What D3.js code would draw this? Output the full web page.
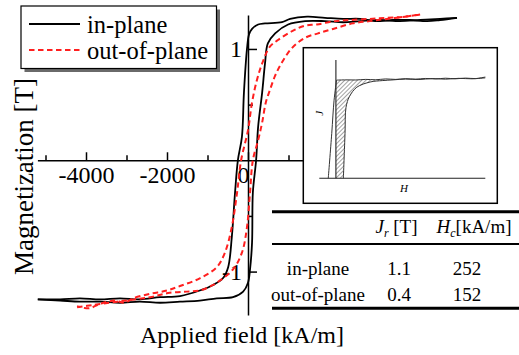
<!DOCTYPE html>
<html>
<head>
<meta charset="utf-8">
<script src="https://cdn.jsdelivr.net/npm/d3@7"></script>
<style>
  body { margin: 0; background: #fff; }
  svg { display: block; }
  svg text { font-family: "Liberation Serif", "Times New Roman", Tinos, "DejaVu Serif", serif; }
</style>
</head>
<body>
<svg id="chart" width="519" height="355"></svg>
<script>
// hysteresis loops, H in kA/m, M in T
const inPlaneDownH = [5160, 4740, 4420, 4000, 3580, 3140, 2770, 2350, 1900, 1460, 1040, 840, 420, 250, 100, 25, -25, -100, -150, -250,
  -320, -400, -490, -620, -860, -1190, -1680, -2170, -2670, -3160, -3650, -4150, -4640, -5190];
const inPlaneDownM = [1.28, 1.26, 1.25, 1.26, 1.26, 1.25, 1.27, 1.27, 1.28, 1.29, 1.27, 1.24, 1.23, 1.22, 1.18, 1.13, 1.00, 0.61, 0.21, 0,
  -0.29, -0.69, -0.96, -1.06, -1.12, -1.17, -1.22, -1.23, -1.25, -1.24, -1.25, -1.24, -1.25, -1.25];
const inPlaneUpH = [-5190, -4640, -4150, -3650, -3160, -2670, -2170, -1680, -1190, -770, -370, -120, 0, 50, 100, 120, 200, 250, 350, 420,
  490, 670, 990, 1410, 1900, 2350, 2770, 3260, 3750, 4250, 4740, 5160];
const inPlaneUpM = [-1.25, -1.26, -1.27, -1.27, -1.28, -1.27, -1.28, -1.27, -1.26, -1.24, -1.23, -1.18, -1.10, -0.98, -0.74, -0.29, 0, 0.30, 0.61, 0.87,
  1.05, 1.14, 1.22, 1.25, 1.25, 1.24, 1.25, 1.26, 1.25, 1.26, 1.27, 1.28];

const outPlaneDownH = [4250, 3880, 3430, 3010, 2520, 2150, 1700, 1410, 1090, 740, 540, 350, 220, 100, 0, -170, -270, -400, -570, -770,
  -1190, -1680, -2000, -2420, -2840, -3060, -3280, -3650, -3930, -4220];
const outPlaneDownM = [1.31, 1.29, 1.28, 1.27, 1.26, 1.25, 1.22, 1.21, 1.16, 1.08, 1.02, 0.87, 0.72, 0.52, 0.27, 0, -0.29, -0.60, -0.83, -0.96,
  -1.06, -1.13, -1.17, -1.20, -1.24, -1.28, -1.26, -1.29, -1.33, -1.31];
const outPlaneUpH = [-4220, -3830, -3230, -2420, -1930, -1510, -1190, -860, -770, -370, -150, -25, 50, 120, 250, 350, 440, 540, 670, 840,
  1090, 1410, 1730, 2100, 2590, 3010, 3430, 3880, 4250];
const outPlaneUpM = [-1.32, -1.30, -1.27, -1.23, -1.19, -1.18, -1.17, -1.12, -1.10, -0.98, -0.83, -0.60, -0.29, 0, 0.18, 0.34, 0.52, 0.63, 0.76, 0.88,
  1.01, 1.10, 1.14, 1.18, 1.23, 1.25, 1.27, 1.29, 1.31];

const xMajorTicks = [-4000, -2000, 0, 2000, 4000];
const xMinorTicks = [-5000, -3000, -1000, 1000, 3000, 5000];
const xTickLabels = ['-4000', '-2000', '0', '', ''];   // positive labels sit under the inset
const yMajorTicks = [-1, 1];
const yMinorTicks = [-0.5, 0.5];
const yTickLabels = ['-1', '1'];

const seriesNames = ['in-plane', 'out-of-plane'];
const remanence = ['1.1', '0.4'];
const coercivity = ['252', '152'];

// inset sketch (second quadrant J(H)), arbitrary units 0..100
const insetSteepH = [5.4, 7.5, 8.9, 10.4];
const insetSteepJ = [0, 38, 66, 83];
const insetTopH = [10.4, 16, 22, 28, 34, 40, 46, 52, 58, 64, 70, 76, 82, 88, 94, 100];
const insetTopJ = [83, 83.2, 83.1, 83.6, 83.3, 84, 83.6, 84.2, 83.8, 84.4, 84, 84.6, 84.1, 84.7, 84.3, 85.6];
const insetCurveH = [14.5, 15.5, 16.1, 18.1, 22.6, 30.6, 38, 44.5, 52, 60, 68, 76, 84, 92, 100];
const insetCurveJ = [0, 38, 60, 69, 77, 81.4, 82.6, 83.2, 83.9, 83.5, 84.3, 83.8, 84.5, 84.1, 84.9];

const RED = '#ff1f1f';

let svg = d3.select('#chart');

// main scales
let x = d3.scaleLinear().domain([-5200, 6000]).range([37.4, 491]);
let y = d3.scaleLinear().domain([-1.39, 1.305]).range([315, 15]);

function styleAxis(g) {
  g.attr('font-family', null).attr('font-size', 24);
  g.selectAll('path, line').attr('stroke', '#000').attr('stroke-width', 1.5);
  g.selectAll('text').attr('fill', '#000');
}

// x axis: ticks point up, minor ticks shorter
let xMinor = svg.append('g').attr('transform', `translate(0,${y(0)})`)
  .call(d3.axisBottom(x).tickValues(xMinorTicks).tickSize(-5).tickSizeOuter(0).tickFormat(''));
let xMajor = svg.append('g').attr('transform', `translate(0,${y(0)})`)
  .call(d3.axisBottom(x).tickValues(xMajorTicks).tickSize(-8).tickSizeOuter(0).tickPadding(6)
    .tickFormat((d, i) => xTickLabels[i]));
styleAxis(xMinor);
styleAxis(xMajor);
xMinor.select('.domain').remove();
xMajor.selectAll('.tick text').filter((d) => d === 0).attr('dx', -5);

// y axis: ticks point right
let yMinor = svg.append('g').attr('transform', `translate(${x(0)},0)`)
  .call(d3.axisLeft(y).tickValues(yMinorTicks).tickSize(-5).tickSizeOuter(0).tickFormat(''));
let yMajor = svg.append('g').attr('transform', `translate(${x(0)},0)`)
  .call(d3.axisLeft(y).tickValues(yMajorTicks).tickSize(-9).tickSizeOuter(0).tickPadding(6)
    .tickFormat((d, i) => yTickLabels[i]));
styleAxis(yMinor);
styleAxis(yMajor);
yMinor.select('.domain').remove();

// loops
let line = d3.line().x((d) => x(d[0])).y((d) => y(d[1])).curve(d3.curveCatmullRom.alpha(0.5));

[[inPlaneDownH, inPlaneDownM], [inPlaneUpH, inPlaneUpM]].forEach(([h, m]) => {
  svg.append('path').datum(d3.zip(h, m)).attr('d', line)
     .attr('fill', 'none').attr('stroke', '#000').attr('stroke-width', 1.8);
});
[[outPlaneDownH, outPlaneDownM], [outPlaneUpH, outPlaneUpM]].forEach(([h, m]) => {
  svg.append('path').datum(d3.zip(h, m)).attr('d', line)
     .attr('fill', 'none').attr('stroke', RED).attr('stroke-width', 2)
     .attr('stroke-dasharray', '5.5,3.5');
});

// axis titles
svg.append('text').attr('x', 242).attr('y', 343).attr('text-anchor', 'middle')
   .attr('font-size', 24).text('Applied field [kA/m]');
svg.append('text').attr('transform', 'translate(33,176.5) rotate(-90)').attr('text-anchor', 'middle')
   .attr('font-size', 27).text('Magnetization [T]');

// legend with drop shadow
let legend = svg.append('g');
legend.append('rect').attr('x', 24.5).attr('y', 9.5).attr('width', 195.5).attr('height', 62.5).attr('fill', '#6a6a6a');
legend.append('rect').attr('x', 21).attr('y', 6).attr('width', 195.5).attr('height', 62.5)
      .attr('fill', '#fff').attr('stroke', '#000').attr('stroke-width', 1.2);
legend.selectAll('g.item').data(seriesNames).enter().append('g').classed('item', true)
  .each(function(d, i) {
    let g = d3.select(this);
    let ly = 24 + i * 26;
    g.append('line').attr('x1', 29).attr('x2', 80).attr('y1', ly).attr('y2', ly)
     .attr('stroke', i === 0 ? '#000' : RED).attr('stroke-width', 2)
     .attr('stroke-dasharray', i === 0 ? null : '5.5,3.5');
    g.append('text').attr('x', 87).attr('y', ly + 9.3).attr('font-size', 24.5).text(d);
  });

// inset
let inset = svg.append('g');
inset.append('rect').attr('x', 303.3).attr('y', 47.7).attr('width', 194).attr('height', 155.6)
     .attr('fill', '#fff').attr('stroke', '#000').attr('stroke-width', 1.5);

let ix = d3.scaleLinear().domain([0, 100]).range([319.3, 485.3]);
let iy = d3.scaleLinear().domain([0, 100]).range([178.3, 60]);

let defs = svg.append('defs');
defs.append('pattern').attr('id', 'hatch').attr('patternUnits', 'userSpaceOnUse')
    .attr('width', 3).attr('height', 3).attr('patternTransform', 'rotate(45)')
    .append('line').attr('x1', 0).attr('y1', 0).attr('x2', 0).attr('y2', 3)
    .attr('stroke', '#333').attr('stroke-width', 0.9);

let hatchPts = [[10, 0], [10, insetTopJ[0]]]
  .concat(d3.zip(insetCurveH, insetCurveJ).slice(0, 8).reverse());
inset.append('path').datum(hatchPts)
     .attr('d', d3.line().x((d) => ix(d[0])).y((d) => iy(d[1])))
     .attr('fill', 'url(#hatch)').attr('stroke', 'none');

let iLine = d3.line().x((d) => ix(d[0])).y((d) => iy(d[1])).curve(d3.curveCatmullRom.alpha(0.5));
inset.append('line').attr('x1', ix(10)).attr('x2', ix(10)).attr('y1', iy(0)).attr('y2', iy(100))
     .attr('stroke', '#222').attr('stroke-width', 1.1);
inset.append('line').attr('x1', ix(0)).attr('x2', ix(100)).attr('y1', iy(0)).attr('y2', iy(0))
     .attr('stroke', '#222').attr('stroke-width', 1.1);
[[insetSteepH, insetSteepJ], [insetTopH, insetTopJ], [insetCurveH, insetCurveJ]].forEach(([h, j]) => {
  inset.append('path').datum(d3.zip(h, j)).attr('d', iLine)
       .attr('fill', 'none').attr('stroke', '#333').attr('stroke-width', 1);
});
inset.append('text').attr('transform', `translate(${ix(2)},${iy(55)}) rotate(-90)`)
     .attr('text-anchor', 'middle').attr('font-size', 11).attr('font-style', 'italic').text('J');
inset.append('text').attr('x', ix(51)).attr('y', 192).attr('text-anchor', 'middle')
     .attr('font-size', 11).attr('font-style', 'italic').text('H');

// property table
let table = svg.append('g').attr('font-size', 19);
table.append('line').attr('x1', 272).attr('x2', 519).attr('y1', 211.7).attr('y2', 211.7)
     .attr('stroke', '#000').attr('stroke-width', 3);
table.append('line').attr('x1', 272).attr('x2', 519).attr('y1', 244).attr('y2', 244)
     .attr('stroke', '#000').attr('stroke-width', 2);
table.append('line').attr('x1', 272).attr('x2', 519).attr('y1', 308.3).attr('y2', 308.3)
     .attr('stroke', '#000').attr('stroke-width', 3);

let h1 = table.append('text').attr('x', 396.5).attr('y', 233).attr('text-anchor', 'middle');
h1.append('tspan').attr('font-style', 'italic').text('J');
h1.append('tspan').attr('font-style', 'italic').attr('font-size', 12).attr('dy', 4).text('r');
h1.append('tspan').attr('dy', -4).text(' [T]');
let h2 = table.append('text').attr('x', 474).attr('y', 233).attr('text-anchor', 'middle');
h2.append('tspan').attr('font-style', 'italic').text('H');
h2.append('tspan').attr('font-style', 'italic').attr('font-size', 12).attr('dy', 4).text('c');
h2.append('tspan').attr('dy', -4).text('[kA/m]');

let rows = table.selectAll('g.row').data(seriesNames).enter().append('g').classed('row', true);
rows.append('text').attr('x', 318).attr('y', (d, i) => 275 + i * 26).attr('text-anchor', 'middle').text((d) => d);
rows.append('text').attr('x', 399).attr('y', (d, i) => 275 + i * 26).attr('text-anchor', 'middle').text((d, i) => remanence[i]);
rows.append('text').attr('x', 467).attr('y', (d, i) => 275 + i * 26).attr('text-anchor', 'middle').text((d, i) => coercivity[i]);
</script>
</body>
</html>
